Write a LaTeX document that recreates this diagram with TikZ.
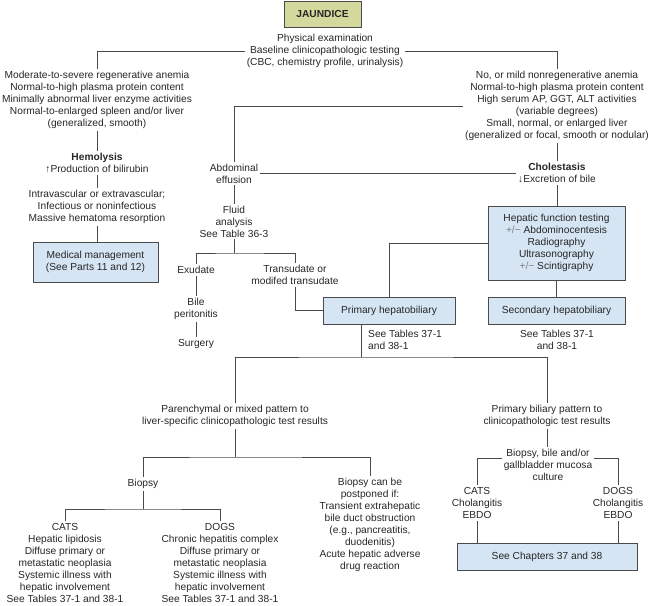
\documentclass[tikz,border=0pt]{standalone}
\usepackage{fontspec}
\setmainfont{Liberation Sans}
\usetikzlibrary{positioning}
\definecolor{boxblue}{HTML}{D6E5F4}
\definecolor{boxolive}{HTML}{D3D99C}
\definecolor{linegray}{HTML}{4A4A4A}
\tikzset{link/.style={draw=linegray, line width=1pt},
  blk/.style={draw=linegray, line width=1pt, fill=boxblue, align=center, inner sep=2pt},
  txt/.style={align=center, inner sep=2pt}}

\begin{document}
\begin{tikzpicture}[x=1pt, y=-1pt, font=\fontsize{10.2}{12}\selectfont, text=black!85]
  \useasboundingbox (0,0) rectangle (650,605);
  \node[blk, fill=boxolive, minimum width=77pt, minimum height=26pt, font=\fontsize{10.2}{12}\selectfont\bfseries] (jaundice) at (322.5,14) {JAUNDICE};
  \node[txt] (exam) at (325,51) {Physical examination\\Baseline clinicopathologic testing\\(CBC, chemistry profile, urinalysis)};
  % hemolysis side
  \node[txt] (hemosigns) at (97,100) {Moderate-to-severe regenerative anemia\\Normal-to-high plasma protein content\\Minimally abnormal liver enzyme activities\\Normal-to-enlarged spleen and/or liver\\(generalized, smooth)};
  \node[txt] (hemolysis) at (97,163) {\textbf{Hemolysis}\\↑Production of bilirubin};
  \node[txt] (hemocause) at (97,207) {Intravascular or extravascular;\\Infectious or noninfectious\\Massive hematoma resorption};
  \node[blk, minimum width=125pt, minimum height=40pt] (medmgmt) at (95.5,262) {Medical management\\(See Parts 11 and 12)};
  % cholestasis side
  \node[txt] (cholsigns) at (557,106) {No, or mild nonregenerative anemia\\Normal-to-high plasma protein content\\High serum AP, GGT, ALT activities\\(variable degrees)\\Small, normal, or enlarged liver\\(generalized or focal, smooth or nodular)};
  \node[txt] (cholestasis) at (557,173) {\textbf{Cholestasis}\\↓Excretion of bile};
  \node[blk, minimum width=137pt, minimum height=74pt] (hepfn) at (556.5,243) {Hepatic function testing\\{\color{gray}+/−} Abdominocentesis\\Radiography\\Ultrasonography\\{\color{gray}+/−} Scintigraphy};
  \node[blk, minimum width=132pt, minimum height=27pt] (primary) at (389,310.5) {Primary hepatobiliary};
  \node[blk, minimum width=137pt, minimum height=27pt] (secondary) at (556.5,310.5) {Secondary hepatobiliary};
  \node[txt] (sectab) at (557,340) {See Tables 37-1\\and 38-1};
  \node[txt, align=left, anchor=west] (primtab) at (366,340) {See Tables 37-1\\and 38-1};
  % effusion
  \node[txt] (effusion) at (234,173.5) {Abdominal\\effusion};
  \node[txt] (fluid) at (234,221.5) {Fluid\\analysis\\See Table 36-3};
  \node[txt] (exudate) at (196,270) {Exudate};
  \node[txt] (bile) at (196,309) {Bile\\peritonitis};
  \node[txt] (surgery) at (196,344) {Surgery};
  \node[txt] (transudate) at (295,275) {Transudate or\\modifed transudate};
  % patterns
  \node[txt] (parench) at (235,416) {Parenchymal or mixed pattern to\\liver-specific clinicopathologic test results};
  \node[txt] (biliary) at (547,416) {Primary biliary pattern to\\clinicopathologic test results};
  \node[txt] (biopsy) at (143,484) {Biopsy};
  \node[txt] (postpone) at (370,524.5) {Biopsy can be\\postponed if:\\Transient extrahepatic\\bile duct obstruction\\(e.g., pancreatitis,\\duodenitis)\\Acute hepatic adverse\\drug reaction};
  \node[txt] (cats) at (65,562.5) {CATS\\Hepatic lipidosis\\Diffuse primary or\\metastatic neoplasia\\Systemic illness with\\hepatic involvement\\See Tables 37-1 and 38-1};
  \node[txt] (dogs) at (220,562.5) {DOGS\\Chronic hepatitis complex\\Diffuse primary or\\metastatic neoplasia\\Systemic illness with\\hepatic involvement\\See Tables 37-1 and 38-1};
  \node[txt] (culture) at (548,465) {Biopsy, bile and/or\\gallbladder mucosa\\culture};
  \node[txt] (catsb) at (477,503) {CATS\\Cholangitis\\EBDO};
  \node[txt] (dogsb) at (618,503) {DOGS\\Cholangitis\\EBDO};
  \node[blk, minimum width=180pt, minimum height=27pt] (chapters) at (547,556.5) {See Chapters 37 and 38};
  % junctions
  \coordinate (fsplit) at (234,253);
  \coordinate (psplit) at (361,357);
  \coordinate (lsplit) at (235,457);
  \coordinate (csplit) at (143,509);
  \coordinate (msplit) at (548,458);
  % connectors
  \draw[link] (exam.west) -| (hemosigns.north);
  \draw[link] (exam.east) -| (cholsigns.north);
  \foreach \a/\b in {hemosigns/hemolysis, hemolysis/hemocause, hemocause/medmgmt, cholsigns/cholestasis, cholestasis/hepfn, hepfn/secondary, effusion/fluid, exudate/bile, bile/surgery, biliary/culture, catsb/chapters, dogsb/chapters}
    \draw[link] (\a.south) -- (\a.south |- \b.north);
  \draw[link] (cholsigns.west) -| (effusion.north);
  \draw[link] (effusion.east) -- (effusion.east -| cholestasis.west);
  \draw[link] (hepfn.west) -| (primary.north);
  \draw[link] (fluid) -- (fsplit);
  \draw[link] (exudate.north) |- (fsplit) -| (transudate.north);
  \draw[link] (transudate.south) |- (primary.west);
  \draw[link] (primary.south -| psplit) -- (psplit);
  \draw[link] (parench.north) |- (psplit) -| (biliary.north);
  \draw[link] (parench) -- (lsplit);
  \draw[link] (biopsy.north) |- (lsplit) -| (postpone.north);
  \draw[link] (biopsy) -- (csplit);
  \draw[link] (cats.north) |- (csplit) -| (dogs.north);
  \draw[link] (catsb.north) |- (culture.west |- msplit);
  \draw[link] (dogsb.north) |- (culture.east |- msplit);
\end{tikzpicture}
\end{document}
